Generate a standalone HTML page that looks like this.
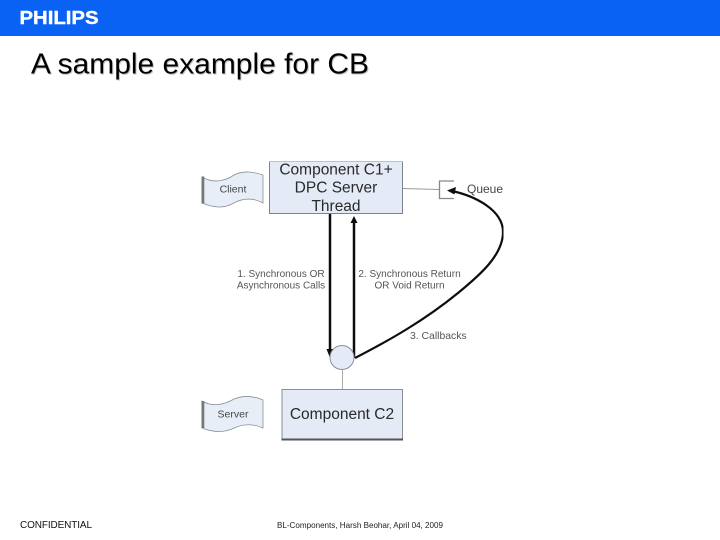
<!DOCTYPE html>
<html><head><meta charset="utf-8"><style>
html,body{margin:0;padding:0;background:#fff}
svg{display:block;font-family:"Liberation Sans",sans-serif}
</style></head><body>
<svg width="720" height="540" viewBox="0 0 720 540" xmlns="http://www.w3.org/2000/svg">
<defs><filter id="b" x="0" y="0" width="100%" height="100%"><feGaussianBlur stdDeviation="0.35"/></filter></defs>
<rect width="720" height="540" fill="#fff"/>
<rect width="720" height="36" fill="#0a62f5"/>
<text x="19.500" y="24" font-size="18" font-weight="bold" fill="#fff" stroke="#fff" stroke-width="0.4" textLength="79" lengthAdjust="spacingAndGlyphs">PHILIPS</text>
<text x="32" y="74.500" font-size="29" fill="#aaa" opacity="0.7" textLength="338" lengthAdjust="spacingAndGlyphs">A sample example for CB</text>
<text x="31" y="73.500" font-size="29" fill="#000" textLength="338" lengthAdjust="spacingAndGlyphs">A sample example for CB</text>

<g filter="url(#b)">
<!-- client -->
<path d="M202 177 C212 183 224 182 234 175 C244 170 254 172 263 175 V203 C252 197 242 198 232 204 C222 209 212 207 202 203 Z" fill="#e8eef8" stroke="#8a8f96" stroke-width="0.8"/>
<rect x="201.500" y="176.500" width="2.800" height="27" fill="#777"/>
<text x="233" y="192.500" font-size="10.500" fill="#444" text-anchor="middle">Client</text>

<!-- C1 -->
<rect x="269.500" y="161.500" width="133" height="52" fill="#e4ebf6" stroke="#7d838b" stroke-width="1"/>
<g font-size="15.500" fill="#2a2a2a" text-anchor="middle">
<text x="336" y="174.500">Component C1+</text>
<text x="336" y="192.500">DPC Server</text>
<text x="336" y="211">Thread</text>
</g>

<!-- queue -->
<line x1="403" y1="188.500" x2="439" y2="189.500" stroke="#999" stroke-width="1"/>
<path d="M454 198.500 H439.500 V181 H454" fill="none" stroke="#888" stroke-width="1.300"/>
<text x="467" y="193" font-size="12" fill="#444">Queue</text>

<!-- arrows -->
<line x1="330" y1="214" x2="330" y2="350" stroke="#111" stroke-width="2.500"/>
<path d="M326.500 349 L333.500 349 L330 358 Z" fill="#111"/>
<line x1="354" y1="222" x2="354" y2="358" stroke="#111" stroke-width="2.500"/>
<path d="M354 216 L357.500 223 L350.500 223 Z" fill="#111"/>
<path d="M355 358 C390 340 425 320 458 293 C480 275 503 255 503 232 C503 210 475 196 452 191" fill="none" stroke="#111" stroke-width="2.200"/>
<path d="M447 190.500 L456 187 L454.500 194.500 Z" fill="#111"/>

<!-- labels -->
<g font-size="10" fill="#555">
<text x="281" y="277" text-anchor="middle">1. Synchronous OR</text>
<text x="281" y="288.500" text-anchor="middle">Asynchronous Calls</text>
<text x="409.500" y="277" text-anchor="middle">2. Synchronous Return</text>
<text x="409.500" y="288.500" text-anchor="middle">OR Void Return</text>
<text x="410" y="339" font-size="10.400">3. Callbacks</text>
</g>

<!-- circle -->
<circle cx="342" cy="357.500" r="12" fill="#e4ebf6" stroke="#8a8f96" stroke-width="1"/>
<line x1="342.500" y1="370" x2="342.500" y2="389" stroke="#aaa" stroke-width="1"/>

<!-- C2 -->
<rect x="282" y="389.500" width="120.500" height="50" fill="#e4ebf6" stroke="#8a8f96" stroke-width="1"/>
<rect x="281.500" y="438.500" width="121.500" height="2" fill="#555"/>
<text x="342" y="419" font-size="15.500" fill="#2a2a2a" text-anchor="middle">Component C2</text>

<!-- server -->
<path d="M202 401 C212 407 224 405 234 399 C244 395 254 396 263 400 V428 C252 423 242 424 232 429 C222 433 212 432 202 428 Z" fill="#e8eef8" stroke="#8a8f96" stroke-width="0.8"/>
<rect x="201.500" y="401" width="2.800" height="27" fill="#777"/>
<text x="233" y="417.500" font-size="10.500" fill="#444" text-anchor="middle">Server</text>
</g>

<!-- footer -->
<text x="20" y="528" font-size="10" fill="#111" textLength="72" lengthAdjust="spacing">CONFIDENTIAL</text>
<text x="277" y="528" font-size="8" fill="#222" textLength="166" lengthAdjust="spacingAndGlyphs">BL-Components, Harsh Beohar, April 04, 2009</text>
</svg>
</body></html>
